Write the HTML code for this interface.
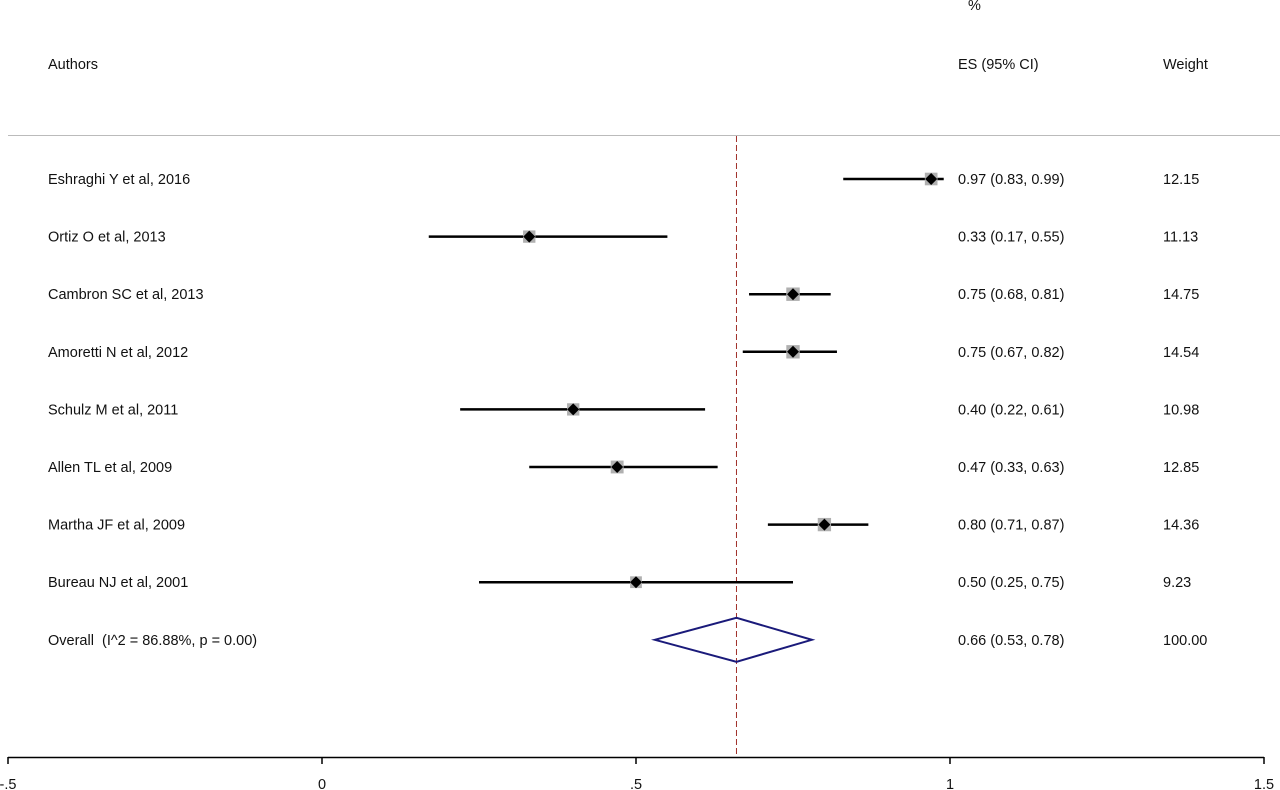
<!DOCTYPE html>
<html><head><meta charset="utf-8"><style>
html,body{margin:0;padding:0;background:#fff;}
svg{display:block;font-family:"Liberation Sans",Arial,sans-serif;}
text{white-space:pre;fill:#111;}
</style></head><body>
<svg id="c" width="1280" height="790" viewBox="0 0 1280 790">
<text x="968" y="10" font-size="14.5">%</text>
<text x="48" y="69" font-size="14.5">Authors</text>
<text x="958" y="69" font-size="14.5">ES (95% CI)</text>
<text x="1163" y="69" font-size="14.5">Weight</text>
<line x1="8" y1="135.5" x2="1280" y2="135.5" stroke="#bbb" stroke-width="1"/>
<g id="rows"></g>
<g id="axis"></g>
</svg>
<script>
const studies=["Eshraghi Y et al, 2016","Ortiz O et al, 2013","Cambron SC et al, 2013","Amoretti N et al, 2012","Schulz M et al, 2011","Allen TL et al, 2009","Martha JF et al, 2009","Bureau NJ et al, 2001"];
const es=[0.97,0.33,0.75,0.75,0.40,0.47,0.80,0.50];
const lo=[0.83,0.17,0.68,0.67,0.22,0.33,0.71,0.25];
const hi=[0.99,0.55,0.81,0.82,0.61,0.63,0.87,0.75];
const weights=["12.15","11.13","14.75","14.54","10.98","12.85","14.36","9.23"];
const overallLabel="Overall  (I^2 = 86.88%, p = 0.00)";
const overall=[0.66,0.53,0.78];
const ticks=[-0.5,0,0.5,1,1.5];
const tickLabels=["-.5","0",".5","1","1.5"];
const NS="http://www.w3.org/2000/svg";
const x=v=>322+628*v;
const rowY=i=>179+57.6*i;
function mk(p,tag,a){const e=document.createElementNS(NS,tag);for(const k in a)e.setAttribute(k,a[k]);p.appendChild(e);return e;}
const rows=document.getElementById('rows');
const ax=document.getElementById('axis');
const fmt=v=>v.toFixed(2);
const FS=14.5;
const ref=mk(rows,'line',{x1:x(overall[0]),x2:x(overall[0]),y1:136,y2:757,stroke:'#a0302a','stroke-dasharray':'6,3','stroke-width':1});


studies.forEach((s,i)=>{
  const y=rowY(i);
  const g=mk(rows,'g',{});
  
  
  const t=mk(g,'text',{x:48,y:y+5,'font-size':FS});t.textContent=s;
  
  
  const l=mk(g,'line',{x1:x(lo[i]),x2:x(hi[i]),y1:y,y2:y,stroke:'#000','stroke-width':2.5});
  
  
  const sz=9+parseFloat(weights[i])*0.3;
  const r=mk(g,'rect',{x:x(es[i])-sz/2,y:y-sz/2,width:sz,height:sz,fill:'#b0b0b0'});
  
  
  const cx=x(es[i]);
  const d=mk(g,'polygon',{points:`${cx},${y-6} ${cx+6},${y} ${cx},${y+6} ${cx-6},${y}`,fill:'#000'});
  
  
  const e=mk(g,'text',{x:958,y:y+5,'font-size':FS});e.textContent=`${fmt(es[i])} (${fmt(lo[i])}, ${fmt(hi[i])})`;
  
  
  const w=mk(g,'text',{x:1163,y:y+5,'font-size':FS});w.textContent=weights[i];
  
  
});
{
  const y=rowY(8);
  const t=mk(rows,'text',{x:48,y:y+5,'font-size':FS});t.textContent=overallLabel;
  
  
  const d=mk(rows,'polygon',{points:`${x(overall[1])},${y} ${x(overall[0])},${y-22} ${x(overall[2])},${y} ${x(overall[0])},${y+22}`,fill:'none',stroke:'#1a1a7a','stroke-width':2});
  
  
  const e=mk(rows,'text',{x:958,y:y+5,'font-size':FS});e.textContent=`${fmt(overall[0])} (${fmt(overall[1])}, ${fmt(overall[2])})`;
  
  
  const w=mk(rows,'text',{x:1163,y:y+5,'font-size':FS});w.textContent="100.00";
  
  
}
const al=mk(ax,'line',{x1:x(ticks[0]),x2:x(ticks[ticks.length-1]),y1:757.5,y2:757.5,stroke:'#000','stroke-width':1.5});


ticks.forEach((v,i)=>{
  const tk=mk(ax,'line',{x1:x(v),x2:x(v),y1:757,y2:764,stroke:'#000','stroke-width':1.5});
  
  
  const tl=mk(ax,'text',{x:x(v),y:789,'font-size':FS,'text-anchor':'middle'});tl.textContent=tickLabels[i];
  
  
});
</script>
</body></html>
